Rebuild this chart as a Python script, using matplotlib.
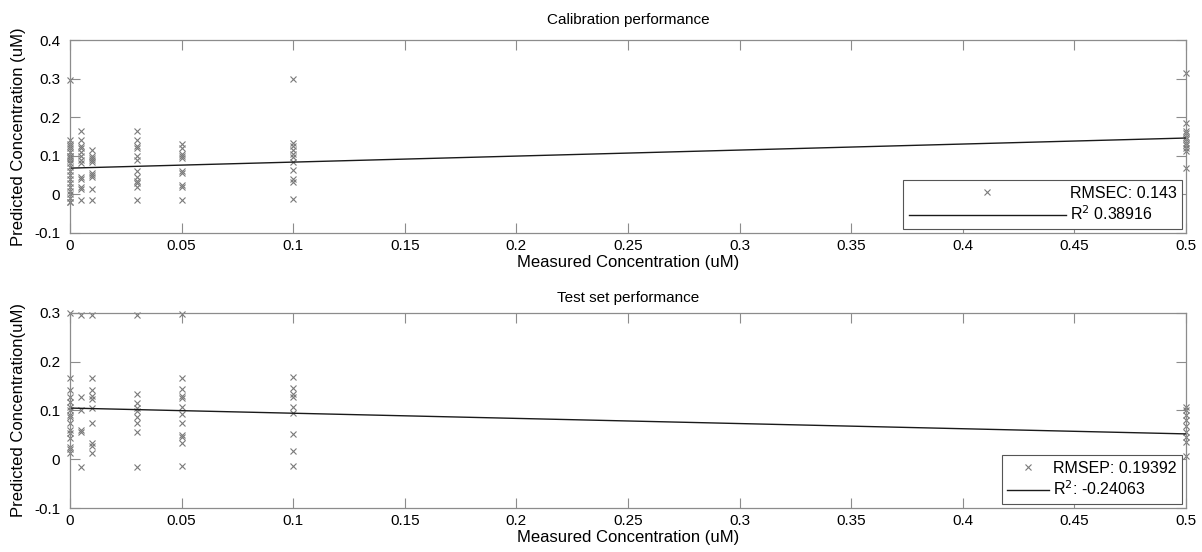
import numpy as np
import matplotlib
matplotlib.use("Agg")
import matplotlib.pyplot as plt

plt.rcParams['font.family'] = ['Liberation Sans', 'DejaVu Sans']

# measured concentration levels (uM)
levels = [0, 0.005, 0.01, 0.03, 0.05, 0.1, 0.5]

# calibration set: predicted values per level
cal_pred = [
    [0.296, 0.14, 0.13, 0.125, 0.12, 0.11, 0.10, 0.10, 0.095, 0.09, 0.08, 0.07,
     0.06, 0.05, 0.04, 0.03, 0.02, 0.01, 0.0, -0.01, -0.02, -0.02],
    [0.165, 0.14, 0.125, 0.12, 0.11, 0.10, 0.09, 0.08, 0.045, 0.04, 0.02, 0.015, -0.015],
    [0.115, 0.10, 0.095, 0.09, 0.085, 0.055, 0.05, 0.045, 0.015, -0.015],
    [0.165, 0.14, 0.125, 0.12, 0.10, 0.09, 0.06, 0.045, 0.035, 0.03, 0.02, -0.015],
    [0.13, 0.12, 0.105, 0.10, 0.095, 0.06, 0.055, 0.025, 0.02, -0.015],
    [0.30, 0.133, 0.125, 0.115, 0.105, 0.098, 0.084, 0.063, 0.04, 0.032, -0.012],
    [0.315, 0.185, 0.164, 0.159, 0.149, 0.143, 0.133, 0.128, 0.12, 0.113, 0.068],
]

# test set: predicted values per level
test_pred = [
    [0.30, 0.167, 0.142, 0.128, 0.117, 0.107, 0.10, 0.09, 0.087, 0.074, 0.06,
     0.054, 0.044, 0.026, 0.02, 0.012],
    [0.296, 0.128, 0.10, 0.06, 0.055, -0.016],
    [0.296, 0.166, 0.142, 0.129, 0.124, 0.105, 0.074, 0.033, 0.028, 0.013],
    [0.296, 0.134, 0.116, 0.105, 0.098, 0.087, 0.075, 0.055, -0.016],
    [0.297, 0.166, 0.144, 0.13, 0.126, 0.107, 0.092, 0.075, 0.05, 0.046, 0.033, -0.014],
    [0.169, 0.146, 0.134, 0.128, 0.107, 0.095, 0.052, 0.017, -0.013],
    [0.107, 0.10, 0.09, 0.08, 0.069, 0.056, 0.046, 0.036, 0.006],
]

# fitted lines (intercept, slope)
cal_fit = (0.068, 0.156)
test_fit = (0.105, -0.106)

xticks = [0, 0.05, 0.1, 0.15, 0.2, 0.25, 0.3, 0.35, 0.4, 0.45, 0.5]
xtick_labels = ['0', '0.05', '0.1', '0.15', '0.2', '0.25', '0.3', '0.35', '0.4', '0.45', '0.5']
cal_yticks = [-0.1, 0, 0.1, 0.2, 0.3, 0.4]
cal_ylabels = ['-0.1', '0', '0.1', '0.2', '0.3', '0.4']
test_yticks = [-0.1, 0, 0.1, 0.2, 0.3]
test_ylabels = ['-0.1', '0', '0.1', '0.2', '0.3']


def flatten(pred):
    xs, ys = [], []
    for lev, vals in zip(levels, pred):
        xs += [lev] * len(vals)
        ys += vals
    return np.array(xs), np.array(ys)


def panel(ax, pred, fit, ylim, yticks, ylabels, title, tpad, ylabel, leg1, leg2, hlen):
    x, y = flatten(pred)
    ax.plot(x, y, 'x', color='#7a7a7a', markersize=4, markeredgewidth=0.8,
            clip_on=False, label=leg1)
    xx = np.array([0, 0.5])
    ax.plot(xx, fit[0] + fit[1] * xx, '-', color='#1a1a1a', linewidth=1.0, label=leg2)
    ax.set_xlim(0, 0.5)
    ax.set_ylim(*ylim)
    ax.set_xticks(xticks)
    ax.set_xticklabels(xtick_labels)
    ax.set_yticks(yticks)
    ax.set_yticklabels(ylabels)
    ax.tick_params(direction='in', length=7, width=0.8, colors='#8c8c8c',
                   labelcolor='black', labelsize=11, top=True, right=True)
    ax.tick_params(axis='x', pad=4.5)
    ax.tick_params(axis='y', pad=7)
    for s in ax.spines.values():
        s.set_color('#8c8c8c')
        s.set_linewidth(0.9)
    ax.set_title(title, fontsize=11, pad=tpad)
    ax.set_xlabel('Measured Concentration (uM)', fontsize=12, labelpad=1)
    ax.set_ylabel(ylabel, fontsize=12, labelpad=6)
    leg = ax.legend(loc='lower right', fontsize=11.5, handlelength=hlen, numpoints=1,
                    fancybox=False, framealpha=1, edgecolor='#555555',
                    borderpad=0.35, labelspacing=0.25, handletextpad=0.25,
                    borderaxespad=0.25)
    leg.get_frame().set_linewidth(0.8)


fig = plt.figure(figsize=(12.02, 5.52), dpi=100)
ax1 = fig.add_axes([0.0582, 0.578, 0.9285, 0.3495])
ax2 = fig.add_axes([0.0582, 0.0797, 0.9285, 0.3533])

panel(ax1, cal_pred, cal_fit, (-0.1, 0.4), cal_yticks, cal_ylabels,
      'Calibration performance', 11.5, 'Predicted Concentration (uM)',
      'RMSEC: 0.143', 'R$^2$ 0.38916', 9.8)
panel(ax2, test_pred, test_fit, (-0.1, 0.3), test_yticks, test_ylabels,
      'Test set performance', 8, 'Predicted Concentration(uM)',
      'RMSEP: 0.19392', 'R$^2$: -0.24063', 2.6)

fig.savefig('out.png', dpi=100)
